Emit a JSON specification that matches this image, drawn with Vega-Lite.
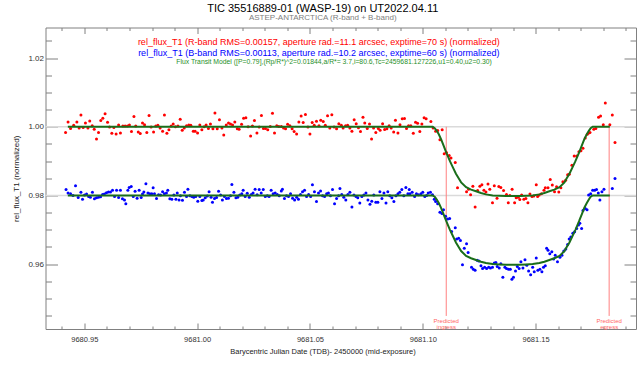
{
  "$schema": "https://vega.github.io/schema/vega-lite/v6.json",
  "width": 590.5,
  "height": 301.5,
  "autosize": {"type": "none"},
  "padding": {"left": 45.5, "top": 27.5, "right": 4, "bottom": 37},
  "config": {
    "font": "Liberation Sans",
    "view": {"stroke": "#808080", "strokeWidth": 1},
    "axis": {"grid": false, "domain": false, "tickColor": "#808080", "tickWidth": 1, "labelColor": "#333333", "titleColor": "#222222", "titleFontWeight": "normal"}
  },
  "title": {
    "text": "TIC 35516889-01 (WASP-19) on UT2022.04.11",
    "subtitle": "ASTEP-ANTARCTICA (R-band + B-band)",
    "anchor": "middle",
    "dx": -18,
    "fontSize": 11,
    "fontWeight": "normal",
    "color": "#000000",
    "subtitleFontSize": 8,
    "subtitleColor": "#808080",
    "subtitlePadding": 0,
    "offset": 5
  },
  "datasets": {
    "refs": [{"f": 1.0}, {"f": 0.98}],
    "predicted": [
      {"t": 9681.1104, "label": "Predicted\ningress"},
      {"t": 9681.1826, "label": "Predicted\negress"}
    ],
    "model": [
      {"t": 9680.9427, "f": 1.0, "b": "R"},
      {"t": 9681.1044, "f": 1.0, "b": "R"},
      {"t": 9681.1053, "f": 0.9996, "b": "R"},
      {"t": 9681.1062, "f": 0.9988, "b": "R"},
      {"t": 9681.1071, "f": 0.9978, "b": "R"},
      {"t": 9681.1081, "f": 0.9964, "b": "R"},
      {"t": 9681.1091, "f": 0.9947, "b": "R"},
      {"t": 9681.1103, "f": 0.9927, "b": "R"},
      {"t": 9681.1112, "f": 0.9913, "b": "R"},
      {"t": 9681.1121, "f": 0.9899, "b": "R"},
      {"t": 9681.1134, "f": 0.9881, "b": "R"},
      {"t": 9681.1147, "f": 0.9863, "b": "R"},
      {"t": 9681.1159, "f": 0.985, "b": "R"},
      {"t": 9681.117, "f": 0.9838, "b": "R"},
      {"t": 9681.1192, "f": 0.9824, "b": "R"},
      {"t": 9681.1214, "f": 0.9817, "b": "R"},
      {"t": 9681.1236, "f": 0.9812, "b": "R"},
      {"t": 9681.1258, "f": 0.9807, "b": "R"},
      {"t": 9681.128, "f": 0.9803, "b": "R"},
      {"t": 9681.131, "f": 0.98, "b": "R"},
      {"t": 9681.134, "f": 0.9799, "b": "R"},
      {"t": 9681.1369, "f": 0.9798, "b": "R"},
      {"t": 9681.1399, "f": 0.9798, "b": "R"},
      {"t": 9681.1428, "f": 0.9798, "b": "R"},
      {"t": 9681.1458, "f": 0.9799, "b": "R"},
      {"t": 9681.1487, "f": 0.98, "b": "R"},
      {"t": 9681.1517, "f": 0.9803, "b": "R"},
      {"t": 9681.1539, "f": 0.9807, "b": "R"},
      {"t": 9681.1561, "f": 0.9812, "b": "R"},
      {"t": 9681.1583, "f": 0.9817, "b": "R"},
      {"t": 9681.1606, "f": 0.9824, "b": "R"},
      {"t": 9681.1628, "f": 0.9838, "b": "R"},
      {"t": 9681.1638, "f": 0.985, "b": "R"},
      {"t": 9681.165, "f": 0.9863, "b": "R"},
      {"t": 9681.1663, "f": 0.9881, "b": "R"},
      {"t": 9681.1676, "f": 0.9899, "b": "R"},
      {"t": 9681.1685, "f": 0.9913, "b": "R"},
      {"t": 9681.1694, "f": 0.9927, "b": "R"},
      {"t": 9681.1706, "f": 0.9947, "b": "R"},
      {"t": 9681.1716, "f": 0.9964, "b": "R"},
      {"t": 9681.1727, "f": 0.9978, "b": "R"},
      {"t": 9681.1736, "f": 0.9988, "b": "R"},
      {"t": 9681.1744, "f": 0.9996, "b": "R"},
      {"t": 9681.1753, "f": 1.0, "b": "R"},
      {"t": 9681.1829, "f": 1.0, "b": "R"},
      {"t": 9680.9427, "f": 0.98, "b": "B"},
      {"t": 9681.1044, "f": 0.98, "b": "B"},
      {"t": 9681.1053, "f": 0.9796, "b": "B"},
      {"t": 9681.1062, "f": 0.9788, "b": "B"},
      {"t": 9681.1071, "f": 0.9778, "b": "B"},
      {"t": 9681.1081, "f": 0.9764, "b": "B"},
      {"t": 9681.1091, "f": 0.9747, "b": "B"},
      {"t": 9681.1103, "f": 0.9727, "b": "B"},
      {"t": 9681.1112, "f": 0.9713, "b": "B"},
      {"t": 9681.1121, "f": 0.9699, "b": "B"},
      {"t": 9681.1134, "f": 0.9681, "b": "B"},
      {"t": 9681.1147, "f": 0.9663, "b": "B"},
      {"t": 9681.1159, "f": 0.965, "b": "B"},
      {"t": 9681.117, "f": 0.9638, "b": "B"},
      {"t": 9681.1192, "f": 0.9624, "b": "B"},
      {"t": 9681.1214, "f": 0.9617, "b": "B"},
      {"t": 9681.1236, "f": 0.9612, "b": "B"},
      {"t": 9681.1258, "f": 0.9607, "b": "B"},
      {"t": 9681.128, "f": 0.9603, "b": "B"},
      {"t": 9681.131, "f": 0.96, "b": "B"},
      {"t": 9681.134, "f": 0.9599, "b": "B"},
      {"t": 9681.1369, "f": 0.9598, "b": "B"},
      {"t": 9681.1399, "f": 0.9598, "b": "B"},
      {"t": 9681.1428, "f": 0.9598, "b": "B"},
      {"t": 9681.1458, "f": 0.9599, "b": "B"},
      {"t": 9681.1487, "f": 0.96, "b": "B"},
      {"t": 9681.1517, "f": 0.9603, "b": "B"},
      {"t": 9681.1539, "f": 0.9607, "b": "B"},
      {"t": 9681.1561, "f": 0.9612, "b": "B"},
      {"t": 9681.1583, "f": 0.9617, "b": "B"},
      {"t": 9681.1606, "f": 0.9624, "b": "B"},
      {"t": 9681.1628, "f": 0.9638, "b": "B"},
      {"t": 9681.1638, "f": 0.965, "b": "B"},
      {"t": 9681.165, "f": 0.9663, "b": "B"},
      {"t": 9681.1663, "f": 0.9681, "b": "B"},
      {"t": 9681.1676, "f": 0.9699, "b": "B"},
      {"t": 9681.1685, "f": 0.9713, "b": "B"},
      {"t": 9681.1694, "f": 0.9727, "b": "B"},
      {"t": 9681.1706, "f": 0.9747, "b": "B"},
      {"t": 9681.1716, "f": 0.9764, "b": "B"},
      {"t": 9681.1727, "f": 0.9778, "b": "B"},
      {"t": 9681.1736, "f": 0.9788, "b": "B"},
      {"t": 9681.1744, "f": 0.9796, "b": "B"},
      {"t": 9681.1753, "f": 0.98, "b": "B"},
      {"t": 9681.1829, "f": 0.98, "b": "B"}
    ],
    "obs": [
      {"t":9680.9417,"f":0.9983,"b":"R"},{"t":9680.9428,"f":1.0014,"b":"R"},{"t":9680.9439,"f":0.9995,"b":"R"},{"t":9680.9453,"f":1.0004,"b":"R"},{"t":9680.9467,"f":1.0014,"b":"R"},{"t":9680.9477,"f":0.9996,"b":"R"},
      {"t":9680.9485,"f":1.0034,"b":"R"},{"t":9680.9495,"f":0.9998,"b":"R"},{"t":9680.9505,"f":1.0011,"b":"R"},{"t":9680.9516,"f":0.9996,"b":"R"},{"t":9680.9524,"f":1.0017,"b":"R"},{"t":9680.9535,"f":1.0003,"b":"R"},{"t":9680.9544,"f":0.9993,"b":"R"},{"t":9680.9554,"f":0.9964,"b":"R"},{"t":9680.9563,"f":0.9983,"b":"R"},{"t":9680.9573,"f":1.0018,"b":"R"},
      {"t":9680.9582,"f":1.0025,"b":"R"},{"t":9680.9592,"f":1.0038,"b":"R"},{"t":9680.9603,"f":1.0013,"b":"R"},{"t":9680.9612,"f":0.9999,"b":"R"},{"t":9680.9622,"f":0.9981,"b":"R"},{"t":9680.9631,"f":0.9998,"b":"R"},{"t":9680.9641,"f":0.9979,"b":"R"},{"t":9680.9652,"f":1.0005,"b":"R"},{"t":9680.966,"f":0.9982,"b":"R"},{"t":9680.9671,"f":1.0002,"b":"R"},
      {"t":9680.9681,"f":1.0002,"b":"R"},{"t":9680.9691,"f":1.0002,"b":"R"},{"t":9680.97,"f":1.0005,"b":"R"},{"t":9680.9709,"f":0.9986,"b":"R"},{"t":9680.972,"f":1.003,"b":"R"},{"t":9680.9728,"f":1.0002,"b":"R"},{"t":9680.9739,"f":0.9985,"b":"R"},{"t":9680.9748,"f":0.998,"b":"R"},{"t":9680.9758,"f":1.0011,"b":"R"},{"t":9680.9767,"f":1.0006,"b":"R"},
      {"t":9680.9777,"f":0.9983,"b":"R"},{"t":9680.9787,"f":1.0033,"b":"R"},{"t":9680.9796,"f":0.9999,"b":"R"},{"t":9680.9807,"f":0.9985,"b":"R"},{"t":9680.9817,"f":1.0002,"b":"R"},{"t":9680.9826,"f":1.0004,"b":"R"},{"t":9680.9836,"f":0.9996,"b":"R"},{"t":9680.9847,"f":0.9987,"b":"R"},{"t":9680.9855,"f":1.0034,"b":"R"},{"t":9680.9866,"f":0.9981,"b":"R"},
      {"t":9680.9875,"f":0.9991,"b":"R"},{"t":9680.9885,"f":1.0002,"b":"R"},{"t":9680.9894,"f":1.0008,"b":"R"},{"t":9680.9904,"f":1.0,"b":"R"},{"t":9680.9915,"f":1.0002,"b":"R"},{"t":9680.9925,"f":1.0022,"b":"R"},{"t":9680.9934,"f":0.999,"b":"R"},{"t":9680.9943,"f":0.9996,"b":"R"},{"t":9680.9953,"f":1.0003,"b":"R"},{"t":9680.9963,"f":1.0005,"b":"R"},
      {"t":9680.9972,"f":1.0004,"b":"R"},{"t":9680.9983,"f":0.9987,"b":"R"},{"t":9680.9991,"f":0.9987,"b":"R"},{"t":9681.0002,"f":0.9982,"b":"R"},{"t":9681.0012,"f":1.0005,"b":"R"},{"t":9681.0021,"f":0.9991,"b":"R"},{"t":9681.0031,"f":1.0,"b":"R"},{"t":9681.004,"f":1.0005,"b":"R"},{"t":9681.005,"f":0.9995,"b":"R"},{"t":9681.0059,"f":1.0008,"b":"R"},
      {"t":9681.007,"f":0.9994,"b":"R"},{"t":9681.0079,"f":1.004,"b":"R"},{"t":9681.0089,"f":0.9994,"b":"R"},{"t":9681.0099,"f":1.002,"b":"R"},{"t":9681.011,"f":0.9996,"b":"R"},{"t":9681.0118,"f":0.9976,"b":"R"},{"t":9681.0129,"f":1.0005,"b":"R"},{"t":9681.0139,"f":1.0011,"b":"R"},{"t":9681.0148,"f":1.0008,"b":"R"},{"t":9681.0157,"f":1.0005,"b":"R"},
      {"t":9681.0167,"f":1.0014,"b":"R"},{"t":9681.0178,"f":0.9994,"b":"R"},{"t":9681.0186,"f":0.9993,"b":"R"},{"t":9681.0197,"f":1.0007,"b":"R"},{"t":9681.0206,"f":1.0025,"b":"R"},{"t":9681.0216,"f":1.0026,"b":"R"},{"t":9681.0226,"f":1.0,"b":"R"},{"t":9681.0237,"f":0.9973,"b":"R"},{"t":9681.0245,"f":1.0002,"b":"R"},{"t":9681.0254,"f":1.0018,"b":"R"},
      {"t":9681.0265,"f":0.9982,"b":"R"},{"t":9681.0275,"f":0.9999,"b":"R"},{"t":9681.0285,"f":1.0033,"b":"R"},{"t":9681.0294,"f":0.9995,"b":"R"},{"t":9681.0303,"f":0.9995,"b":"R"},{"t":9681.0313,"f":0.9991,"b":"R"},{"t":9681.0324,"f":1.0001,"b":"R"},{"t":9681.0334,"f":1.0039,"b":"R"},{"t":9681.0343,"f":0.9982,"b":"R"},{"t":9681.0353,"f":1.0003,"b":"R"},
      {"t":9681.0362,"f":1.0001,"b":"R"},{"t":9681.0373,"f":1.0001,"b":"R"},{"t":9681.0383,"f":0.9996,"b":"R"},{"t":9681.0392,"f":0.9994,"b":"R"},{"t":9681.0401,"f":1.0007,"b":"R"},{"t":9681.0411,"f":1.0003,"b":"R"},{"t":9681.0421,"f":0.9994,"b":"R"},{"t":9681.043,"f":0.9986,"b":"R"},{"t":9681.0441,"f":0.9979,"b":"R"},{"t":9681.0451,"f":1.0014,"b":"R"},
      {"t":9681.0461,"f":1.0031,"b":"R"},{"t":9681.047,"f":1.0012,"b":"R"},{"t":9681.048,"f":1.0036,"b":"R"},{"t":9681.0491,"f":0.9999,"b":"R"},{"t":9681.05,"f":0.9979,"b":"R"},{"t":9681.051,"f":1.0012,"b":"R"},{"t":9681.0519,"f":1.0004,"b":"R"},{"t":9681.0529,"f":1.0016,"b":"R"},{"t":9681.054,"f":1.0003,"b":"R"},{"t":9681.0548,"f":1.0019,"b":"R"},
      {"t":9681.0559,"f":1.0015,"b":"R"},{"t":9681.0568,"f":1.0004,"b":"R"},{"t":9681.0578,"f":1.0032,"b":"R"},{"t":9681.0588,"f":0.9996,"b":"R"},{"t":9681.0597,"f":1.0035,"b":"R"},{"t":9681.0607,"f":0.9999,"b":"R"},{"t":9681.0618,"f":0.9994,"b":"R"},{"t":9681.0628,"f":1.0009,"b":"R"},{"t":9681.0639,"f":1.0004,"b":"R"},{"t":9681.0647,"f":0.9996,"b":"R"},
      {"t":9681.0658,"f":1.0003,"b":"R"},{"t":9681.0667,"f":1.0004,"b":"R"},{"t":9681.0677,"f":0.9996,"b":"R"},{"t":9681.0686,"f":0.9987,"b":"R"},{"t":9681.0696,"f":1.002,"b":"R"},{"t":9681.0705,"f":1.0009,"b":"R"},{"t":9681.0715,"f":0.9997,"b":"R"},{"t":9681.0724,"f":0.9986,"b":"R"},{"t":9681.0735,"f":1.0028,"b":"R"},{"t":9681.0743,"f":1.0011,"b":"R"},
      {"t":9681.0754,"f":0.9995,"b":"R"},{"t":9681.0764,"f":1.0008,"b":"R"},{"t":9681.0773,"f":0.9964,"b":"R"},{"t":9681.0782,"f":0.9996,"b":"R"},{"t":9681.0792,"f":0.9983,"b":"R"},{"t":9681.0803,"f":0.9995,"b":"R"},{"t":9681.0811,"f":0.999,"b":"R"},{"t":9681.0822,"f":1.0009,"b":"R"},{"t":9681.0831,"f":0.9992,"b":"R"},{"t":9681.0841,"f":0.9994,"b":"R"},
      {"t":9681.0851,"f":1.0003,"b":"R"},{"t":9681.086,"f":0.9996,"b":"R"},{"t":9681.0871,"f":0.9985,"b":"R"},{"t":9681.0879,"f":1.0019,"b":"R"},{"t":9681.089,"f":0.9982,"b":"R"},{"t":9681.0899,"f":1.0006,"b":"R"},{"t":9681.0909,"f":1.0023,"b":"R"},{"t":9681.0919,"f":1.0024,"b":"R"},{"t":9681.0928,"f":0.9995,"b":"R"},{"t":9681.0937,"f":1.0003,"b":"R"},
      {"t":9681.0947,"f":1.0003,"b":"R"},{"t":9681.0958,"f":0.9981,"b":"R"},{"t":9681.0968,"f":1.0013,"b":"R"},{"t":9681.0977,"f":1.001,"b":"R"},{"t":9681.0987,"f":0.9986,"b":"R"},{"t":9681.0996,"f":1.0008,"b":"R"},{"t":9681.1006,"f":1.0026,"b":"R"},{"t":9681.1015,"f":1.0023,"b":"R"},{"t":9681.1036,"f":1.0015,"b":"R"},{"t":9681.1046,"f":0.9996,"b":"R"},
      {"t":9681.1057,"f":0.9987,"b":"R"},{"t":9681.1066,"f":0.9989,"b":"R"},{"t":9681.1076,"f":0.9962,"b":"R"},{"t":9681.1086,"f":0.9991,"b":"R"},{"t":9681.1095,"f":0.9921,"b":"R"},{"t":9681.1105,"f":0.9925,"b":"R"},{"t":9681.1117,"f":0.9916,"b":"R"},{"t":9681.1125,"f":0.9909,"b":"R"},{"t":9681.1144,"f":0.9896,"b":"R"},{"t":9681.1154,"f":0.9822,"b":"R"},
      {"t":9681.1194,"f":0.9811,"b":"R"},{"t":9681.1203,"f":0.9818,"b":"R"},{"t":9681.1212,"f":0.9802,"b":"R"},{"t":9681.1222,"f":0.9827,"b":"R"},{"t":9681.1232,"f":0.9766,"b":"R"},{"t":9681.1243,"f":0.9814,"b":"R"},{"t":9681.1253,"f":0.9827,"b":"R"},{"t":9681.1262,"f":0.9831,"b":"R"},{"t":9681.1271,"f":0.9815,"b":"R"},{"t":9681.128,"f":0.981,"b":"R"},
      {"t":9681.1289,"f":0.9833,"b":"R"},{"t":9681.1297,"f":0.9818,"b":"R"},{"t":9681.1309,"f":0.9779,"b":"R"},{"t":9681.1317,"f":0.9828,"b":"R"},{"t":9681.1329,"f":0.9792,"b":"R"},{"t":9681.1337,"f":0.9826,"b":"R"},{"t":9681.1346,"f":0.9823,"b":"R"},{"t":9681.1358,"f":0.9814,"b":"R"},{"t":9681.1371,"f":0.9803,"b":"R"},{"t":9681.1379,"f":0.9779,"b":"R"},
      {"t":9681.1386,"f":0.98,"b":"R"},{"t":9681.1396,"f":0.9818,"b":"R"},{"t":9681.1407,"f":0.9779,"b":"R"},{"t":9681.1414,"f":0.9793,"b":"R"},{"t":9681.1423,"f":0.9795,"b":"R"},{"t":9681.143,"f":0.9788,"b":"R"},{"t":9681.1438,"f":0.9801,"b":"R"},{"t":9681.1448,"f":0.9789,"b":"R"},{"t":9681.1457,"f":0.9791,"b":"R"},{"t":9681.1466,"f":0.9779,"b":"R"},
      {"t":9681.1475,"f":0.9804,"b":"R"},{"t":9681.1484,"f":0.9797,"b":"R"},{"t":9681.1492,"f":0.9798,"b":"R"},{"t":9681.1503,"f":0.9831,"b":"R"},{"t":9681.1509,"f":0.9797,"b":"R"},{"t":9681.1516,"f":0.9801,"b":"R"},{"t":9681.1526,"f":0.9805,"b":"R"},{"t":9681.1537,"f":0.9815,"b":"R"},{"t":9681.1543,"f":0.9822,"b":"R"},{"t":9681.1555,"f":0.9822,"b":"R"},
      {"t":9681.1565,"f":0.9846,"b":"R"},{"t":9681.1574,"f":0.983,"b":"R"},{"t":9681.1584,"f":0.9811,"b":"R"},{"t":9681.1593,"f":0.9825,"b":"R"},{"t":9681.1603,"f":0.981,"b":"R"},{"t":9681.1612,"f":0.9822,"b":"R"},{"t":9681.1621,"f":0.984,"b":"R"},{"t":9681.1633,"f":0.9844,"b":"R"},{"t":9681.1642,"f":0.986,"b":"R"},{"t":9681.1649,"f":0.9862,"b":"R"},
      {"t":9681.1661,"f":0.9888,"b":"R"},{"t":9681.1671,"f":0.9915,"b":"R"},{"t":9681.1682,"f":0.9915,"b":"R"},{"t":9681.1692,"f":0.9927,"b":"R"},{"t":9681.1701,"f":0.993,"b":"R"},{"t":9681.171,"f":0.9937,"b":"R"},{"t":9681.172,"f":0.9967,"b":"R"},{"t":9681.1729,"f":0.9978,"b":"R"},{"t":9681.1735,"f":0.9982,"b":"R"},{"t":9681.1741,"f":0.9983,"b":"R"},
      {"t":9681.1758,"f":0.9993,"b":"R"},{"t":9681.1767,"f":0.9995,"b":"R"},{"t":9681.1779,"f":1.0028,"b":"R"},{"t":9681.1788,"f":1.0031,"b":"R"},{"t":9681.18,"f":1.0006,"b":"R"},{"t":9681.1809,"f":1.0069,"b":"R"},{"t":9681.1829,"f":1.0006,"b":"R"},{"t":9681.184,"f":1.0034,"b":"R"},{"t":9681.1852,"f":0.9954,"b":"R"},
      {"t":9680.9419,"f":0.9817,"b":"B"},{"t":9680.9428,"f":0.9807,"b":"B"},{"t":9680.9439,"f":0.9805,"b":"B"},{"t":9680.945,"f":0.98,"b":"B"},{"t":9680.9461,"f":0.9828,"b":"B"},{"t":9680.9473,"f":0.9794,"b":"B"},
      {"t":9680.9485,"f":0.9809,"b":"B"},{"t":9680.9492,"f":0.9789,"b":"B"},{"t":9680.9501,"f":0.9801,"b":"B"},{"t":9680.951,"f":0.9804,"b":"B"},{"t":9680.9519,"f":0.9797,"b":"B"},{"t":9680.9527,"f":0.9795,"b":"B"},{"t":9680.9536,"f":0.9809,"b":"B"},{"t":9680.9545,"f":0.979,"b":"B"},{"t":9680.9554,"f":0.9793,"b":"B"},{"t":9680.9563,"f":0.9795,"b":"B"},
      {"t":9680.9572,"f":0.9796,"b":"B"},{"t":9680.9581,"f":0.9803,"b":"B"},{"t":9680.9589,"f":0.9804,"b":"B"},{"t":9680.9598,"f":0.9808,"b":"B"},{"t":9680.9607,"f":0.981,"b":"B"},{"t":9680.9616,"f":0.981,"b":"B"},{"t":9680.9625,"f":0.9815,"b":"B"},{"t":9680.9634,"f":0.9797,"b":"B"},{"t":9680.9643,"f":0.9815,"b":"B"},{"t":9680.9652,"f":0.9794,"b":"B"},
      {"t":9680.966,"f":0.9815,"b":"B"},{"t":9680.9669,"f":0.979,"b":"B"},{"t":9680.9678,"f":0.9787,"b":"B"},{"t":9680.9684,"f":0.9776,"b":"B"},{"t":9680.9693,"f":0.9815,"b":"B"},{"t":9680.9699,"f":0.9823,"b":"B"},{"t":9680.9708,"f":0.9826,"b":"B"},{"t":9680.9717,"f":0.9797,"b":"B"},{"t":9680.9725,"f":0.9812,"b":"B"},{"t":9680.9734,"f":0.9792,"b":"B"},
      {"t":9680.9743,"f":0.9815,"b":"B"},{"t":9680.9752,"f":0.9794,"b":"B"},{"t":9680.9758,"f":0.9804,"b":"B"},{"t":9680.9764,"f":0.981,"b":"B"},{"t":9680.9773,"f":0.9834,"b":"B"},{"t":9680.9782,"f":0.9807,"b":"B"},{"t":9680.979,"f":0.9805,"b":"B"},{"t":9680.9799,"f":0.9805,"b":"B"},{"t":9680.9805,"f":0.9822,"b":"B"},{"t":9680.9811,"f":0.9805,"b":"B"},
      {"t":9680.982,"f":0.9791,"b":"B"},{"t":9680.9829,"f":0.9802,"b":"B"},{"t":9680.9838,"f":0.9801,"b":"B"},{"t":9680.9847,"f":0.9811,"b":"B"},{"t":9680.9855,"f":0.9805,"b":"B"},{"t":9680.9864,"f":0.9807,"b":"B"},{"t":9680.987,"f":0.9815,"b":"B"},{"t":9680.9879,"f":0.979,"b":"B"},{"t":9680.9888,"f":0.9789,"b":"B"},{"t":9680.9897,"f":0.9801,"b":"B"},
      {"t":9680.9906,"f":0.9789,"b":"B"},{"t":9680.9912,"f":0.9807,"b":"B"},{"t":9680.992,"f":0.9787,"b":"B"},{"t":9680.9926,"f":0.9799,"b":"B"},{"t":9680.9935,"f":0.9786,"b":"B"},{"t":9680.9944,"f":0.9809,"b":"B"},{"t":9680.9953,"f":0.9797,"b":"B"},{"t":9680.9959,"f":0.9818,"b":"B"},{"t":9680.9968,"f":0.9799,"b":"B"},{"t":9680.9977,"f":0.9797,"b":"B"},
      {"t":9680.9985,"f":0.9795,"b":"B"},{"t":9680.9994,"f":0.9797,"b":"B"},{"t":9681.0003,"f":0.9783,"b":"B"},{"t":9681.0012,"f":0.9797,"b":"B"},{"t":9681.0021,"f":0.9785,"b":"B"},{"t":9681.0027,"f":0.9787,"b":"B"},{"t":9681.0036,"f":0.9793,"b":"B"},{"t":9681.0045,"f":0.9798,"b":"B"},{"t":9681.0053,"f":0.9811,"b":"B"},{"t":9681.0062,"f":0.9795,"b":"B"},
      {"t":9681.0068,"f":0.978,"b":"B"},{"t":9681.0077,"f":0.9791,"b":"B"},{"t":9681.0086,"f":0.9794,"b":"B"},{"t":9681.0095,"f":0.9812,"b":"B"},{"t":9681.0104,"f":0.9801,"b":"B"},{"t":9681.0112,"f":0.9787,"b":"B"},{"t":9681.0121,"f":0.9797,"b":"B"},{"t":9681.013,"f":0.9791,"b":"B"},{"t":9681.0139,"f":0.9792,"b":"B"},{"t":9681.0148,"f":0.9799,"b":"B"},
      {"t":9681.0154,"f":0.9832,"b":"B"},{"t":9681.0163,"f":0.9809,"b":"B"},{"t":9681.0172,"f":0.9793,"b":"B"},{"t":9681.018,"f":0.9795,"b":"B"},{"t":9681.0189,"f":0.9801,"b":"B"},{"t":9681.0198,"f":0.9805,"b":"B"},{"t":9681.0204,"f":0.9815,"b":"B"},{"t":9681.0213,"f":0.9797,"b":"B"},{"t":9681.0222,"f":0.9806,"b":"B"},{"t":9681.0231,"f":0.9795,"b":"B"},
      {"t":9681.024,"f":0.9803,"b":"B"},{"t":9681.0248,"f":0.9807,"b":"B"},{"t":9681.0257,"f":0.9818,"b":"B"},{"t":9681.0266,"f":0.9802,"b":"B"},{"t":9681.0275,"f":0.9817,"b":"B"},{"t":9681.0284,"f":0.9807,"b":"B"},{"t":9681.0293,"f":0.9817,"b":"B"},{"t":9681.0302,"f":0.9797,"b":"B"},{"t":9681.0311,"f":0.9799,"b":"B"},{"t":9681.0319,"f":0.9797,"b":"B"},
      {"t":9681.0328,"f":0.9815,"b":"B"},{"t":9681.0337,"f":0.9805,"b":"B"},{"t":9681.0346,"f":0.9807,"b":"B"},{"t":9681.0355,"f":0.9803,"b":"B"},{"t":9681.0364,"f":0.9799,"b":"B"},{"t":9681.0373,"f":0.9813,"b":"B"},{"t":9681.0378,"f":0.9818,"b":"B"},{"t":9681.0387,"f":0.9791,"b":"B"},{"t":9681.0396,"f":0.9799,"b":"B"},{"t":9681.0405,"f":0.9797,"b":"B"},
      {"t":9681.0414,"f":0.9805,"b":"B"},{"t":9681.0423,"f":0.9792,"b":"B"},{"t":9681.0432,"f":0.9787,"b":"B"},{"t":9681.0441,"f":0.9795,"b":"B"},{"t":9681.0449,"f":0.9789,"b":"B"},{"t":9681.0458,"f":0.9803,"b":"B"},{"t":9681.0467,"f":0.9811,"b":"B"},{"t":9681.0476,"f":0.9815,"b":"B"},{"t":9681.0485,"f":0.9797,"b":"B"},{"t":9681.0494,"f":0.9803,"b":"B"},
      {"t":9681.0503,"f":0.9797,"b":"B"},{"t":9681.0511,"f":0.9831,"b":"B"},{"t":9681.052,"f":0.9811,"b":"B"},{"t":9681.0529,"f":0.9782,"b":"B"},{"t":9681.0538,"f":0.9807,"b":"B"},{"t":9681.0547,"f":0.9813,"b":"B"},{"t":9681.0556,"f":0.9799,"b":"B"},{"t":9681.0565,"f":0.9797,"b":"B"},{"t":9681.0574,"f":0.9805,"b":"B"},{"t":9681.0582,"f":0.9807,"b":"B"},
      {"t":9681.0591,"f":0.9799,"b":"B"},{"t":9681.06,"f":0.9817,"b":"B"},{"t":9681.0609,"f":0.9776,"b":"B"},{"t":9681.0618,"f":0.9791,"b":"B"},{"t":9681.0627,"f":0.9799,"b":"B"},{"t":9681.0633,"f":0.982,"b":"B"},{"t":9681.0641,"f":0.9803,"b":"B"},{"t":9681.065,"f":0.9795,"b":"B"},{"t":9681.0659,"f":0.9787,"b":"B"},{"t":9681.0668,"f":0.9803,"b":"B"},
      {"t":9681.0677,"f":0.9809,"b":"B"},{"t":9681.0686,"f":0.9766,"b":"B"},{"t":9681.0695,"f":0.9801,"b":"B"},{"t":9681.0704,"f":0.9797,"b":"B"},{"t":9681.0712,"f":0.9793,"b":"B"},{"t":9681.0721,"f":0.9778,"b":"B"},{"t":9681.073,"f":0.9797,"b":"B"},{"t":9681.0739,"f":0.9801,"b":"B"},{"t":9681.0748,"f":0.9807,"b":"B"},{"t":9681.0757,"f":0.9787,"b":"B"},
      {"t":9681.0766,"f":0.9774,"b":"B"},{"t":9681.0774,"f":0.9783,"b":"B"},{"t":9681.0783,"f":0.9801,"b":"B"},{"t":9681.0792,"f":0.978,"b":"B"},{"t":9681.0801,"f":0.978,"b":"B"},{"t":9681.081,"f":0.9811,"b":"B"},{"t":9681.0819,"f":0.9791,"b":"B"},{"t":9681.0828,"f":0.9807,"b":"B"},{"t":9681.0837,"f":0.9778,"b":"B"},{"t":9681.0845,"f":0.9811,"b":"B"},
      {"t":9681.0854,"f":0.9799,"b":"B"},{"t":9681.0863,"f":0.9793,"b":"B"},{"t":9681.0872,"f":0.9782,"b":"B"},{"t":9681.0881,"f":0.9799,"b":"B"},{"t":9681.089,"f":0.9805,"b":"B"},{"t":9681.0898,"f":0.9809,"b":"B"},{"t":9681.0907,"f":0.9817,"b":"B"},{"t":9681.0916,"f":0.9799,"b":"B"},{"t":9681.0925,"f":0.9823,"b":"B"},{"t":9681.0934,"f":0.9805,"b":"B"},
      {"t":9681.094,"f":0.9817,"b":"B"},{"t":9681.0943,"f":0.9805,"b":"B"},{"t":9681.0953,"f":0.9809,"b":"B"},{"t":9681.0964,"f":0.9797,"b":"B"},{"t":9681.0972,"f":0.9805,"b":"B"},{"t":9681.0981,"f":0.9802,"b":"B"},{"t":9681.0992,"f":0.9805,"b":"B"},{"t":9681.1,"f":0.9809,"b":"B"},{"t":9681.1009,"f":0.9797,"b":"B"},{"t":9681.1017,"f":0.98,"b":"B"},
      {"t":9681.1024,"f":0.9807,"b":"B"},{"t":9681.1034,"f":0.9809,"b":"B"},{"t":9681.1043,"f":0.9802,"b":"B"},{"t":9681.1051,"f":0.9789,"b":"B"},{"t":9681.1057,"f":0.9782,"b":"B"},{"t":9681.1066,"f":0.9776,"b":"B"},{"t":9681.1076,"f":0.9751,"b":"B"},{"t":9681.1085,"f":0.9747,"b":"B"},{"t":9681.1092,"f":0.9758,"b":"B"},{"t":9681.1101,"f":0.9739,"b":"B"},
      {"t":9681.111,"f":0.9731,"b":"B"},{"t":9681.1119,"f":0.9733,"b":"B"},{"t":9681.1128,"f":0.9695,"b":"B"},{"t":9681.1144,"f":0.9706,"b":"B"},{"t":9681.115,"f":0.9673,"b":"B"},{"t":9681.1159,"f":0.9675,"b":"B"},{"t":9681.1167,"f":0.9669,"b":"B"},{"t":9681.1176,"f":0.9598,"b":"B"},{"t":9681.1184,"f":0.9646,"b":"B"},{"t":9681.1194,"f":0.9659,"b":"B"},
      {"t":9681.1201,"f":0.9634,"b":"B"},{"t":9681.1216,"f":0.9591,"b":"B"},{"t":9681.1224,"f":0.9585,"b":"B"},{"t":9681.1232,"f":0.9582,"b":"B"},{"t":9681.1241,"f":0.9611,"b":"B"},{"t":9681.1249,"f":0.9609,"b":"B"},{"t":9681.1258,"f":0.9595,"b":"B"},{"t":9681.1265,"f":0.9587,"b":"B"},{"t":9681.1274,"f":0.9591,"b":"B"},{"t":9681.1283,"f":0.9587,"b":"B"},
      {"t":9681.1292,"f":0.9591,"b":"B"},{"t":9681.13,"f":0.9589,"b":"B"},{"t":9681.1309,"f":0.9591,"b":"B"},{"t":9681.1317,"f":0.9603,"b":"B"},{"t":9681.1324,"f":0.9605,"b":"B"},{"t":9681.133,"f":0.9593,"b":"B"},{"t":9681.1339,"f":0.9589,"b":"B"},{"t":9681.1346,"f":0.9601,"b":"B"},{"t":9681.1355,"f":0.9562,"b":"B"},{"t":9681.1364,"f":0.9591,"b":"B"},
      {"t":9681.1371,"f":0.9587,"b":"B"},{"t":9681.138,"f":0.9585,"b":"B"},{"t":9681.1388,"f":0.9585,"b":"B"},{"t":9681.1395,"f":0.9556,"b":"B"},{"t":9681.1402,"f":0.9562,"b":"B"},{"t":9681.1411,"f":0.958,"b":"B"},{"t":9681.1419,"f":0.9593,"b":"B"},{"t":9681.1427,"f":0.9587,"b":"B"},{"t":9681.1435,"f":0.9607,"b":"B"},{"t":9681.1444,"f":0.9589,"b":"B"},
      {"t":9681.1453,"f":0.9613,"b":"B"},{"t":9681.1461,"f":0.9597,"b":"B"},{"t":9681.1469,"f":0.958,"b":"B"},{"t":9681.1478,"f":0.9569,"b":"B"},{"t":9681.1487,"f":0.9591,"b":"B"},{"t":9681.1494,"f":0.9578,"b":"B"},{"t":9681.1503,"f":0.9618,"b":"B"},{"t":9681.151,"f":0.9582,"b":"B"},{"t":9681.1519,"f":0.9585,"b":"B"},{"t":9681.1528,"f":0.9578,"b":"B"},
      {"t":9681.1535,"f":0.9591,"b":"B"},{"t":9681.1543,"f":0.9595,"b":"B"},{"t":9681.1549,"f":0.9646,"b":"B"},{"t":9681.1555,"f":0.964,"b":"B"},{"t":9681.1563,"f":0.963,"b":"B"},{"t":9681.1572,"f":0.9636,"b":"B"},{"t":9681.158,"f":0.9615,"b":"B"},{"t":9681.1587,"f":0.9626,"b":"B"},{"t":9681.1597,"f":0.9607,"b":"B"},{"t":9681.1608,"f":0.962,"b":"B"},
      {"t":9681.1617,"f":0.9626,"b":"B"},{"t":9681.1625,"f":0.9638,"b":"B"},{"t":9681.1634,"f":0.9644,"b":"B"},{"t":9681.1642,"f":0.9657,"b":"B"},{"t":9681.1649,"f":0.9673,"b":"B"},{"t":9681.1656,"f":0.9679,"b":"B"},{"t":9681.1665,"f":0.969,"b":"B"},{"t":9681.1673,"f":0.9694,"b":"B"},{"t":9681.1682,"f":0.9704,"b":"B"},{"t":9681.169,"f":0.9714,"b":"B"},
      {"t":9681.1696,"f":0.9719,"b":"B"},{"t":9681.1704,"f":0.9704,"b":"B"},{"t":9681.171,"f":0.9756,"b":"B"},{"t":9681.172,"f":0.9762,"b":"B"},{"t":9681.1728,"f":0.9758,"b":"B"},{"t":9681.1735,"f":0.9801,"b":"B"},{"t":9681.1744,"f":0.9805,"b":"B"},{"t":9681.1753,"f":0.9815,"b":"B"},{"t":9681.1762,"f":0.9815,"b":"B"},{"t":9681.177,"f":0.9817,"b":"B"},
      {"t":9681.1778,"f":0.9807,"b":"B"},{"t":9681.1785,"f":0.9787,"b":"B"},{"t":9681.1794,"f":0.9811,"b":"B"},{"t":9681.1803,"f":0.9818,"b":"B"},{"t":9681.184,"f":0.982,"b":"B"},{"t":9681.1852,"f":0.9849,"b":"B"}
    ]
  },
  "resolve": {"axis": {"x": "independent", "y": "independent"}},
  "layer": [
    {
      "data": {"name": "refs"},
      "mark": {"type": "rule", "color": "#dadada", "strokeWidth": 1.5},
      "encoding": {
        "y": {
          "field": "f", "type": "quantitative",
          "scale": {"domain": [0.9411, 1.0289], "nice": false, "zero": false},
          "axis": {
            "orient": "left",
            "values": [0.945, 0.95, 0.955, 0.96, 0.965, 0.97, 0.975, 0.98, 0.985, 0.99, 0.995, 1.0, 1.005, 1.01, 1.015, 1.02, 1.025],
            "labelExpr": "abs(datum.value*50-round(datum.value*50))<0.001 ? format(datum.value,'.2f') : ''",
            "tickSize": {"condition": {"test": "abs(datum.value*50-round(datum.value*50))<0.001", "value": -12}, "value": -6},
            "labelPadding": 14,
            "labelFontSize": 8,
            "title": "rel_flux_T1 (normalized)",
            "titleFontSize": 8,
            "titleX": -29,
            "titleY": 150.75,
            "titleAngle": -90,
            "titleAlign": "center",
            "titleBaseline": "middle"
          }
        }
      }
    },
    {
      "data": {"name": "predicted"},
      "mark": {"type": "rule", "color": "#ff8080", "strokeWidth": 1},
      "encoding": {
        "x": {
          "field": "t", "type": "quantitative",
          "scale": {"domain": [9680.9328, 9681.1945], "nice": false, "zero": false},
          "axis": {
            "orient": "bottom",
            "values": [9680.94, 9680.95, 9680.96, 9680.97, 9680.98, 9680.99, 9681.0, 9681.01, 9681.02, 9681.03, 9681.04, 9681.05, 9681.06, 9681.07, 9681.08, 9681.09, 9681.1, 9681.11, 9681.12, 9681.13, 9681.14, 9681.15, 9681.16, 9681.17, 9681.18, 9681.19],
            "labelExpr": "abs(datum.value*20-round(datum.value*20))<0.001 ? format(datum.value,'.2f') : ''",
            "tickSize": {"condition": {"test": "abs(datum.value*20-round(datum.value*20))<0.001", "value": -6}, "value": -3},
            "labelPadding": 12,
            "labelFontSize": 7.5,
            "title": "Barycentric Julian Date (TDB)- 2450000 (mid-exposure)",
            "titleFontSize": 7.5,
            "titleX": 277,
            "titleY": 22,
            "titleAlign": "center",
            "titleBaseline": "middle"
          }
        },
        "y": {"datum": 1.0, "type": "quantitative", "axis": null},
        "y2": {"datum": 0.9449}
      }
    },
    {
      "data": {"name": "obs"},
      "mark": {"type": "circle", "size": 9, "opacity": 1},
      "encoding": {
        "x": {"field": "t", "type": "quantitative", "axis": null},
        "y": {"field": "f", "type": "quantitative", "axis": null},
        "color": {"field": "b", "type": "nominal", "scale": {"domain": ["R", "B"], "range": ["#ff0000", "#0000ff"]}, "legend": null}
      }
    },
    {
      "data": {"name": "model"},
      "mark": {"type": "line", "color": "#1a6e1a", "strokeWidth": 2},
      "encoding": {
        "x": {
          "field": "t", "type": "quantitative",
          "axis": {
            "orient": "top",
            "values": [9680.94, 9680.95, 9680.96, 9680.97, 9680.98, 9680.99, 9681.0, 9681.01, 9681.02, 9681.03, 9681.04, 9681.05, 9681.06, 9681.07, 9681.08, 9681.09, 9681.1, 9681.11, 9681.12, 9681.13, 9681.14, 9681.15, 9681.16, 9681.17, 9681.18, 9681.19],
            "labels": false,
            "tickSize": {"condition": {"test": "abs(datum.value*20-round(datum.value*20))<0.001", "value": -6}, "value": -3},
            "title": null
          }
        },
        "y": {
          "field": "f", "type": "quantitative",
          "axis": {
            "orient": "right",
            "values": [0.945, 0.95, 0.955, 0.96, 0.965, 0.97, 0.975, 0.98, 0.985, 0.99, 0.995, 1.0, 1.005, 1.01, 1.015, 1.02, 1.025],
            "labels": false,
            "tickSize": {"condition": {"test": "abs(datum.value*50-round(datum.value*50))<0.001", "value": -12}, "value": -6},
            "title": null
          }
        },
        "detail": {"field": "b", "type": "nominal"}
      }
    },
    {
      "data": {"name": "predicted"},
      "mark": {"type": "text", "color": "#ff6666", "fontSize": 6, "lineBreak": "\n", "lineHeight": 6, "baseline": "middle", "align": "center"},
      "encoding": {
        "x": {"field": "t", "type": "quantitative", "axis": null},
        "y": {"datum": 0.9433, "type": "quantitative", "axis": null},
        "text": {"field": "label"}
      }
    },
    {
      "data": {"values": [{}]},
      "mark": {"type": "text", "color": "#ff0000", "fontSize": 9, "baseline": "middle", "align": "center"},
      "encoding": {
        "x": {"datum": 9681.0539, "type": "quantitative", "axis": null},
        "y": {"datum": 1.02456, "type": "quantitative", "axis": null},
        "text": {"value": "rel_flux_T1 (R-band RMS=0.00157, aperture rad.=11.1 arcsec, exptime=70 s) (normalized)"}
      }
    },
    {
      "data": {"values": [{}]},
      "mark": {"type": "text", "color": "#0000ff", "fontSize": 9, "baseline": "middle", "align": "center"},
      "encoding": {
        "x": {"datum": 9681.0539, "type": "quantitative", "axis": null},
        "y": {"datum": 1.02147, "type": "quantitative", "axis": null},
        "text": {"value": "rel_flux_T1 (B-band RMS=0.00113, aperture rad.=10.2 arcsec, exptime=60 s) (normalized)"}
      }
    },
    {
      "data": {"values": [{}]},
      "mark": {"type": "text", "color": "#1f8f1f", "fontSize": 6.8, "baseline": "middle", "align": "center"},
      "encoding": {
        "x": {"datum": 9681.0607, "type": "quantitative", "axis": null},
        "y": {"datum": 1.01873, "type": "quantitative", "axis": null},
        "text": {"value": "Flux Transit Model ([P=0.79],(Rp/R*)^2=0.01844,a/R*= 3.7,i=80.6,Tc=2459681.127226,u1=0.40,u2=0.30)"}
      }
    }
  ]
}
